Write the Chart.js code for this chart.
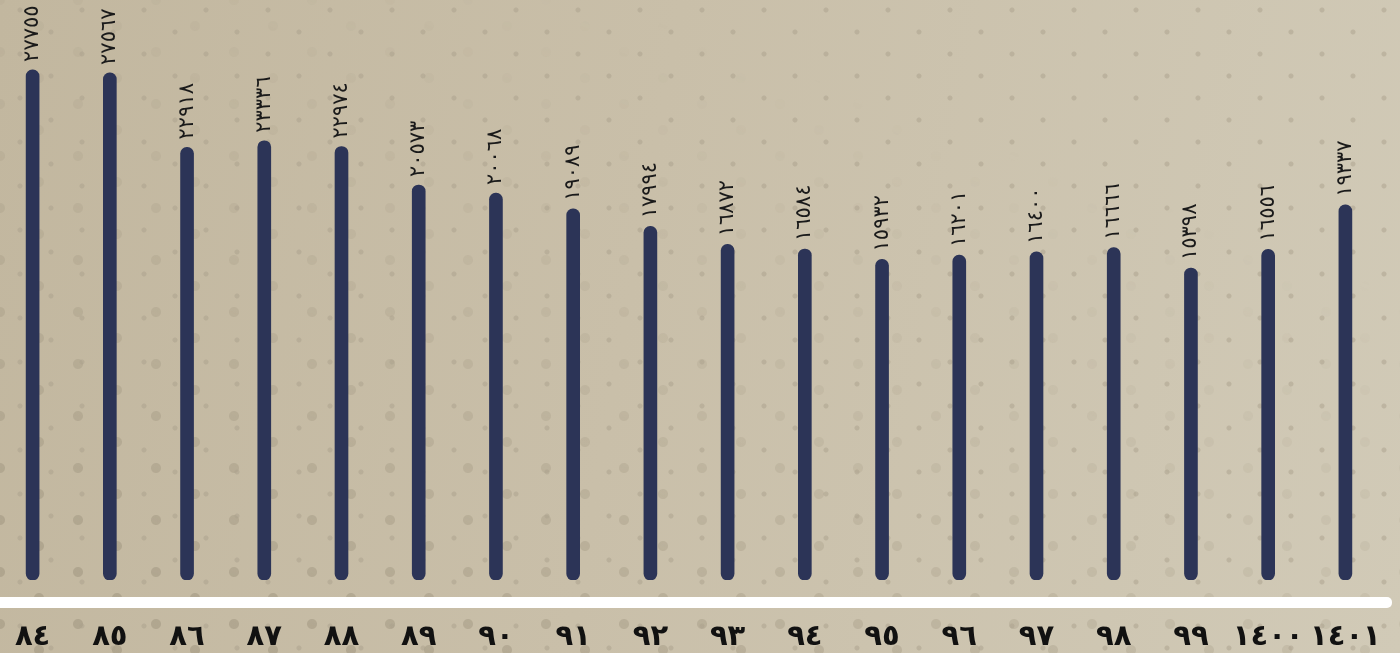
<!DOCTYPE html>
<html>
<head>
<meta charset="utf-8">
<script src="https://cdn.jsdelivr.net/npm/chart.js@4.4.1/dist/chart.umd.min.js"></script>
<style>
  html, body { margin: 0; padding: 0; }
  body {
    width: 1400px;
    height: 653px;
    overflow: hidden;
    position: relative;
    background: linear-gradient(100deg, #c2b79f 0%, #c9bfa9 45%, #d1cab7 100%);
  }
  /* dotted pattern of the background */
  body::before {
    content: '';
    position: absolute;
    inset: 0;
    background-image:
      radial-gradient(circle, rgba(160, 150, 128, 0.55) 4.5px, transparent 5.5px),
      radial-gradient(circle, rgba(160, 150, 128, 0.55) 4.5px, transparent 5.5px);
    background-size: 78px 52px;
    background-position: 0 0, 39px 26px;
    -webkit-mask-image: linear-gradient(20deg, #000 10%, rgba(0,0,0,0.35) 45%, transparent 75%);
    mask-image: linear-gradient(20deg, #000 10%, rgba(0,0,0,0.35) 45%, transparent 75%);
  }
  body::after {
    content: '';
    position: absolute;
    inset: 0;
    background-image:
      radial-gradient(circle, rgba(170, 160, 140, 0.5) 2px, transparent 3px),
      radial-gradient(circle, rgba(170, 160, 140, 0.5) 2px, transparent 3px);
    background-size: 62px 44px;
    background-position: 20px 10px, 51px 32px;
  }
  #wrap { position: absolute; left: -6px; top: 0; width: 1406px; height: 653px; z-index: 1; }
</style>
</head>
<body>
<div id="wrap"><canvas id="chart"></canvas></div>
<script>
// years 1384..1401, Persian chart labels
const years = ['٨٤', '٨٥', '٨٦', '٨٧', '٨٨', '٨٩', '٩٠', '٩١', '٩٢', '٩٣', '٩٤', '٩٥', '٩٦', '٩٧', '٩٨', '٩٩', '١٤٠٠', '١٤٠١'];
const values = [27755, 27567, 22918, 23336, 22974, 20573, 20068, 19089, 17994, 16872, 16584, 15932, 16201, 16400, 16666, 15398, 16556, 19337];

// value axis range (bars start at axisMin)
const axisMin = -4067;
const axisMax = 32115;

const arabicDigits = ['٠', '١', '٢', '٣', '٤', '٥', '٦', '٧', '٨', '٩'];
function toArabicDigits(n) {
    return String(n).replace(/[0-9]/g, d => arabicDigits[d]);
}

// white baseline under the bars
const baseLine = {
    id: 'baseLine',
    beforeDatasetsDraw(chart) {
        const ctx = chart.ctx;
        const y = chart.chartArea.bottom + 17;
        ctx.save();
        ctx.fillStyle = '#ffffff';
        ctx.beginPath();
        ctx.roundRect(-10, y, chart.width - 8 + 10, 11, 5);
        ctx.fill();
        ctx.restore();
    }
};

// rotated value labels above each bar
const valueLabels = {
    id: 'valueLabels',
    afterDatasetsDraw(chart) {
        const ctx = chart.ctx;
        const meta = chart.getDatasetMeta(0);
        ctx.save();
        ctx.fillStyle = '#1a1a1a';
        ctx.font = '21px "DejaVu Sans"';
        ctx.textAlign = 'left';
        ctx.textBaseline = 'middle';
        meta.data.forEach((bar, i) => {
            ctx.save();
            ctx.translate(bar.x, bar.y - 8);
            ctx.rotate(-Math.PI / 2);
            ctx.fillText(toArabicDigits(values[i]), 0, 0);
            ctx.restore();
        });
        ctx.restore();
    }
};

new Chart(document.getElementById('chart'), {
    type: 'bar',
    data: {
        labels: years,
        datasets: [{
            data: values,
            base: axisMin,
            backgroundColor: '#2c3457',
            barThickness: 13,
            borderRadius: 7,
            borderSkipped: false
        }]
    },
    options: {
        responsive: true,
        maintainAspectRatio: false,
        animation: false,
        layout: { padding: { left: 0, right: 16, top: 0, bottom: 0 } },
        plugins: {
            legend: { display: false },
            tooltip: { enabled: false }
        },
        scales: {
            x: {
                offset: true,
                grid: { display: false },
                border: { display: false },
                afterFit: scale => {
                    scale.height = 73;
                    scale.paddingLeft = 0;
                    scale.paddingRight = 0;
                },
                ticks: {
                    color: '#111111',
                    padding: 32,
                    maxRotation: 0,
                    autoSkip: false,
                    font: { family: 'DejaVu Sans', weight: 'bold', size: 29 }
                }
            },
            y: {
                display: false,
                min: axisMin,
                max: axisMax
            }
        }
    },
    plugins: [baseLine, valueLabels]
});
</script>
</body>
</html>
